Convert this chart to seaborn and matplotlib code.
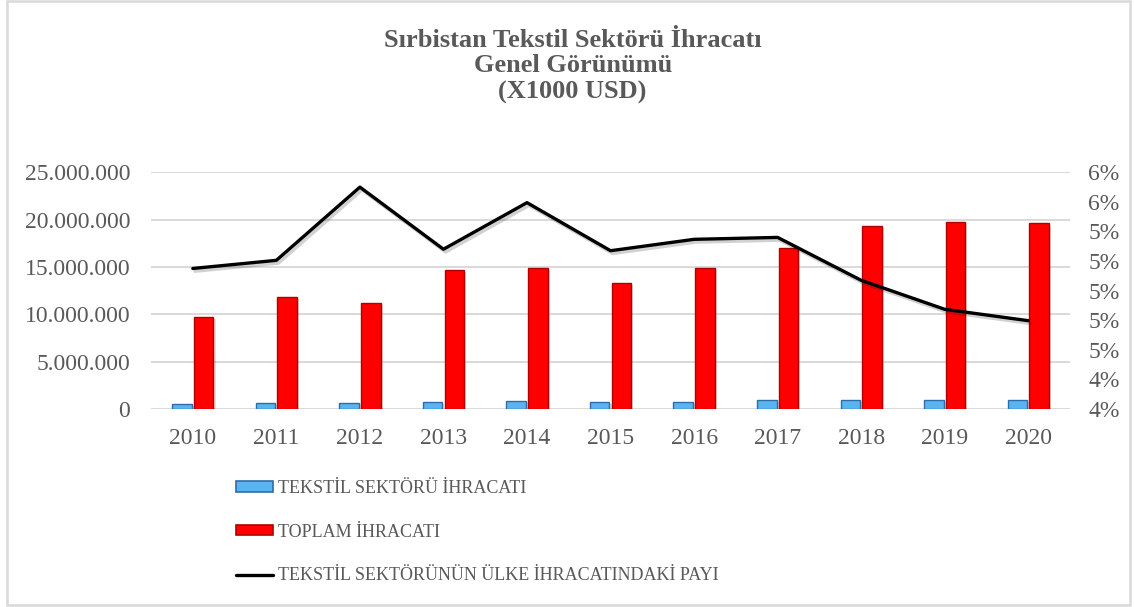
import matplotlib
matplotlib.use("Agg")
import matplotlib.pyplot as plt
import matplotlib.patheffects as pe
from matplotlib.patches import Patch, Rectangle
from matplotlib.lines import Line2D
from matplotlib.ticker import FixedLocator, FuncFormatter
import seaborn as sns
import pandas as pd

years = ["2010", "2011", "2012", "2013", "2014", "2015", "2016", "2017", "2018", "2019", "2020"]
textile_exports = [502000, 615000, 638000, 776000, 830000, 705000, 790000, 910000, 980000, 960000, 940000]
total_exports = [9750000, 11800000, 11200000, 14700000, 14850000, 13350000, 14850000, 16970000, 19300000, 19750000, 19600000]
share_pct = [5.15, 5.205, 5.70, 5.28, 5.595, 5.27, 5.347, 5.36, 5.07, 4.874, 4.797]

left_ticks = [0, 5000000, 10000000, 15000000, 20000000, 25000000]
right_ticks = [4.2, 4.4, 4.6, 4.8, 5.0, 5.2, 5.4, 5.6, 5.8]

lbl_textile = "TEKSTİL SEKTÖRÜ İHRACATI"
lbl_total = "TOPLAM İHRACATI"
lbl_share = "TEKSTİL SEKTÖRÜNÜN ÜLKE İHRACATINDAKİ PAYI"
title = "Sırbistan Tekstil Sektörü İhracatı\nGenel Görünümü\n(X1000 USD)"

sns.set_theme(style="white")
plt.rcParams["font.family"] = "Liberation Serif"
gray = "#595959"

df = pd.DataFrame({
    "year": years * 2,
    "value": textile_exports + total_exports,
    "series": [lbl_textile] * len(years) + [lbl_total] * len(years),
})

fig = plt.figure(figsize=(11.34, 6.07), dpi=100)
ax = fig.add_axes([0.1332, 0.3262, 0.8104, 0.3899])

blue_face, blue_edge = "#5AB4F0", "#2F6DA8"
red_face, red_edge = "#FF0000", "#B00000"

sns.barplot(data=df, x="year", y="value", hue="series", order=years,
            hue_order=[lbl_textile, lbl_total],
            palette=[blue_face, red_face], saturation=1, width=0.52, gap=0.1,
            ax=ax, legend=False, linewidth=1.0)
for i, p in enumerate(ax.patches):
    if i < len(years):
        p.set_edgecolor(blue_edge)
    else:
        p.set_edgecolor(red_edge)
    p.set_path_effects([pe.SimplePatchShadow(offset=(1.5, -1.5), alpha=0.15), pe.Normal()])

ax.set_ylim(0, 25000000)
ax.set_xlim(-0.5, len(years) - 0.5)
ax.yaxis.set_major_locator(FixedLocator(left_ticks))
ax.yaxis.set_major_formatter(FuncFormatter(lambda v, p: f"{int(v):,}".replace(",", ".")))
ax.grid(axis="y", color="#D9D9D9", linewidth=1.4)
ax.set_axisbelow(True)
for s in ax.spines.values():
    s.set_visible(False)
ax.set_xlabel("")
ax.set_ylabel("")
ax.tick_params(axis="both", length=0, labelsize=17, labelcolor=gray)
ax.tick_params(axis="y", pad=15)
ax.tick_params(axis="x", pad=14)

ax2 = ax.twinx()
sns.lineplot(x=list(range(len(years))), y=share_pct, ax=ax2, color="black",
             linewidth=2.4, legend=False,
             path_effects=[pe.SimpleLineShadow(offset=(1.5, -2), alpha=0.2), pe.Normal()])
ax2.set_ylim(4.2, 5.8)
ax2.yaxis.set_major_locator(FixedLocator(right_ticks))
ax2.yaxis.set_major_formatter(FuncFormatter(lambda v, p: f"{v:.0f}%"))
for s in ax2.spines.values():
    s.set_visible(False)
ax2.set_ylabel("")
ax2.tick_params(axis="y", length=0, labelsize=17, labelcolor=gray, pad=13)
ax2.grid(False)

fig.text(0.505, 0.953, title, ha="center", va="top", fontsize=19,
         fontweight="bold", color=gray, linespacing=1.16)

handles = [
    Patch(facecolor=blue_face, edgecolor=blue_edge, linewidth=1.2),
    Patch(facecolor=red_face, edgecolor=red_edge, linewidth=1.2),
    Line2D([0], [0], color="black", linewidth=2.4),
]
leg = fig.legend(handles, [lbl_textile, lbl_total, lbl_share], loc="upper left",
                 bbox_to_anchor=(0.1938, 0.236), frameon=False, fontsize=13,
                 handlelength=2.05, handleheight=0.5, handletextpad=0.28,
                 labelspacing=1.48, labelcolor=gray)

fig.patches.append(Rectangle((0.0065, 0.004), 0.99, 0.994, transform=fig.transFigure,
                             fill=False, edgecolor="#D9D9D9", linewidth=1.8))

fig.savefig("out.png", dpi=100)
